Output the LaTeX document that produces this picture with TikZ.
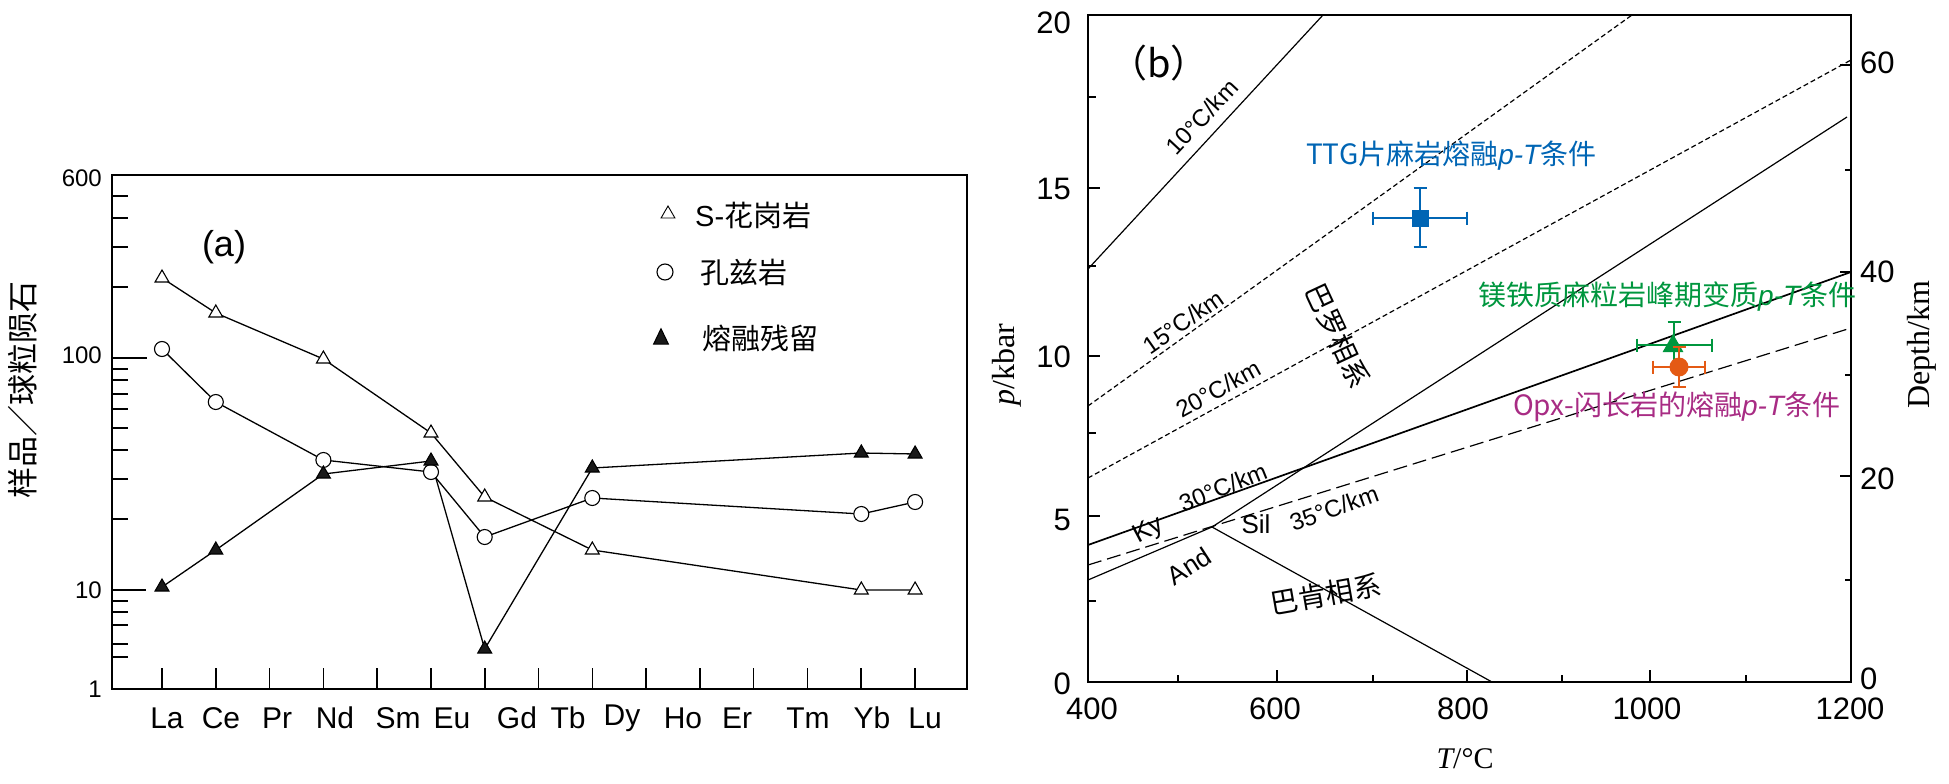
\documentclass[tikz,border=0pt]{standalone}
\usepackage{fontspec}
\setmainfont{Liberation Sans}
\newfontfamily\cj{Noto Sans CJK SC}
\newfontfamily\tms{Liberation Serif}
\usetikzlibrary{shapes.geometric}
\newcommand\fsz[1]{\fontsize{#1}{#1}\selectfont}
\definecolor{cblue}{RGB}{0,101,180}
\definecolor{cgreen}{RGB}{0,150,62}
\definecolor{corange}{RGB}{228,90,20}
\definecolor{cmag}{RGB}{168,44,132}
\begin{document}
\begin{tikzpicture}[x=1pt,y=-1pt,
  frame/.style={line width=2pt},
  tk/.style={line width=1.6pt},
  dataline/.style={line width=1.3pt},
  tri/.style={regular polygon, regular polygon sides=3, minimum size=16pt, inner sep=0pt, draw, line width=1.1pt, fill=white},
  ftri/.style={tri, fill=black!90},
  circ/.style={circle, minimum size=15pt, inner sep=0pt, draw, line width=1.1pt, fill=white},
  lab/.style={inner sep=0pt},
  iso/.style={line width=1.2pt},
  shortdash/.style={iso, dash pattern=on 5pt off 3pt},
  longdash/.style={iso, dash pattern=on 14pt off 6pt},
  errb/.style={line width=1.8pt},
  glab/.style={font=\fsz{24}}
]
\useasboundingbox (0,0) rectangle (1949,784);

% ================= panel (a) =================
\draw[frame] (112,175) rectangle (967,689);
\draw[tk] (112,358) -- (147,358);
\draw[tk] (112,590) -- (146,590);
\foreach \y in {196,218,247,287,369,380,394,409,428,450,479,519,601,612,625,644,657}
  \draw[tk] (112,\y) -- (128,\y);
\foreach \i in {0,...,14}
  \draw[tk] ({162+53.79*\i},689) -- ++(0,-21);

\node[lab, anchor=east, font=\fsz{24}] (ya600) at (102,178) {600};
\node[lab, anchor=east, font=\fsz{24}] (ya100) at (102,355) {100};
\node[lab, anchor=east, font=\fsz{24}] (ya10) at (102,590) {10};
\node[lab, anchor=east, font=\fsz{24}] (ya1) at (102,689) {1};

\foreach \nm/\x in {La/167,Ce/221,Pr/277,Nd/335,Sm/398,Eu/452,Gd/517,Tb/568,Dy/622,Ho/683,Er/737,Tm/808,Yb/872,Lu/925}
  \node[font=\fsz{30}] (x\nm) at (\x,718) {\nm};

\node[rotate=90, font=\cj\fsz{31}] (ylabA) at (23,390) {样品／球粒陨石};
\node[font=\fsz{36}] (tagA) at (224,247) {(a)};

% data
\foreach \n/\x/\s/\k/\r in {1/162/278/349/587, 2/215.8/313/402/550, 3/323.4/359/460/474,
   4/431/433/472/461, 5/484.7/497/537/649, 6/592.3/550/498/468, 7/861.3/590/514/453, 8/915.1/590/502/454} {
  \coordinate (s\n) at (\x,\s);
  \coordinate (k\n) at (\x,\k);
  \coordinate (r\n) at (\x,\r);
}
\draw[dataline] (s1)--(s2)--(s3)--(s4)--(s5)--(s6)--(s7)--(s8);
\draw[dataline] (k1)--(k2)--(k3)--(k4)--(k5)--(k6)--(k7)--(k8);
\draw[dataline] (r1)--(r2)--(r3)--(r4)--(r5)--(r6)--(r7)--(r8);
\foreach \n in {1,...,8} {
  \node[tri] (S\n) at (s\n) {};
  \node[circ] (K\n) at (k\n) {};
  \node[ftri] (R\n) at (r\n) {};
}

% legend
\node[tri, line width=0.9pt, minimum size=16pt] (legS) at (668,214) {};
\node[lab, anchor=west, font=\fsz{29}] (legSt) at (695,215) {S-{\cj 花岗岩}};
\node[circ, minimum size=16pt] (legK) at (665,272) {};
\node[lab, anchor=west, font=\cj\fsz{29}] (legKt) at (700,272) {孔兹岩};
\node[ftri, minimum size=17pt, yscale=1.2] (legR) at (661,339) {};
\node[lab, anchor=west, font=\cj\fsz{29}] (legRt) at (702,338) {熔融残留};

% ================= panel (b) =================
\begin{scope}
\clip (1088,15) rectangle (1851,682);
\draw[iso] (1088,269) -- (1323,15);
\draw[shortdash] (1088,406) -- (1632,15);
\draw[shortdash] (1088,478) -- (1851,60);
\coordinate (tp) at (1212,527);
\draw[iso] (tp) -- (1847,117);
\draw[line width=1.7pt] (1088,545) -- (1851,272);
\draw[longdash] (1088,565) -- (1851,328);
\draw[iso] (1088,580) -- (tp);
\draw[iso] (tp) -- (1492,682);
\end{scope}

\draw[frame] (1088,15) rectangle (1851,682);
\foreach \y in {188,356,516} \draw[tk] (1088,\y) -- ++(12,0);
\foreach \y in {97,266,433,601} \draw[tk] (1088,\y) -- ++(8,0);
\foreach \y in {65,272,476} \draw[tk] (1851,\y) -- ++(-11,0);
\foreach \y in {170,375,580} \draw[tk] (1851,\y) -- ++(-6,0);
\foreach \x in {1277,1467,1650} \draw[tk] (\x,682) -- ++(0,-12);
\foreach \x in {1178,1373,1562,1746} \draw[tk] (\x,682) -- ++(0,-7);

\foreach \v/\y in {20/23,15/189,10/357,5/520,0/684}
  \node[lab, anchor=east, font=\fsz{31}] (yb\v) at (1071,\y) {\v};
\foreach \v/\x in {400/1092,600/1275,800/1463,1000/1647,1200/1850}
  \node[font=\fsz{31}] (xb\v) at (\x,709) {\v};
\foreach \v/\y in {60/63,40/272,20/479,0/679}
  \node[lab, anchor=west, font=\fsz{31}] (db\v) at (1860,\y) {\v};

\node[rotate=90, font=\tms\fsz{32}] (ylabB) at (1007,365) {{\itshape p}/kbar};
\node[rotate=90, font=\tms\fsz{32}] (dlabB) at (1922,345) {Depth/km};
\node[font=\tms\fsz{30}] (xlabB) at (1465,759) {{\itshape T}/°C};
\node[font=\cj\fsz{38}] (tagB) at (1159,63) {（b）};

\node[glab, rotate=47] (g10) at (1202,117) {10°C/km};
\node[glab, rotate=35] (g15) at (1183,322) {15°C/km};
\node[glab, rotate=29] (g20) at (1218,389) {20°C/km};
\node[glab, rotate=22] (g30) at (1223,487) {30°C/km};
\node[glab, rotate=20] (g35) at (1334,508) {35°C/km};
\node[font=\fsz{26}, rotate=28] (ky) at (1149,531) {Ky};
\node[font=\fsz{26}] (sil) at (1256,524) {Sil};
\node[font=\fsz{26}, rotate=33] (and) at (1189,566) {And};
\node[font=\cj\fsz{28}, rotate=-65] (barrow) at (1338,336) {巴罗相系};
\node[font=\cj\fsz{28}, rotate=10] (buchan) at (1326,594) {巴肯相系};

\node[lab, anchor=west, text=cblue, font=\cj\fsz{28}] (ttgt) at (1306,156) {TTG片麻岩熔融{\rmfamily\itshape p-T}条件};
\node[lab, anchor=west, text=cgreen, font=\cj\fsz{28}] (mgt) at (1478,297) {镁铁质麻粒岩峰期变质{\rmfamily\itshape p-T}条件};
\node[lab, anchor=west, text=cmag, font=\cj\fsz{28}] (opxt) at (1513,407) {Opx-闪长岩的熔融{\rmfamily\itshape p-T}条件};

% blue square with error bars
\draw[errb, cblue] (1373,218) -- (1467,218);
\draw[errb, cblue] (1420,188) -- (1420,247);
\draw[errb, cblue] (1373,211.5) -- (1373,224.5);
\draw[errb, cblue] (1467,211.5) -- (1467,224.5);
\draw[errb, cblue] (1413.5,188) -- (1426.5,188);
\draw[errb, cblue] (1413.5,247) -- (1426.5,247);
\node[rectangle, fill=cblue, minimum size=17pt, inner sep=0pt] (ttg) at (1420,218) {};

% green triangle with error bars
\draw[errb, cgreen] (1637,345) -- (1712,345);
\draw[errb, cgreen] (1674,322) -- (1674,368);
\draw[errb, cgreen] (1637,338.5) -- (1637,351.5);
\draw[errb, cgreen] (1712,338.5) -- (1712,351.5);
\draw[errb, cgreen] (1667.5,322) -- (1680.5,322);
\node[regular polygon, regular polygon sides=3, fill=cgreen, minimum size=24pt, inner sep=0pt] (mg) at (1673,346) {};

% orange circle with error bars
\draw[errb, corange] (1653,367) -- (1705,367);
\draw[errb, corange] (1679,347) -- (1679,387);
\draw[errb, corange] (1653,360.5) -- (1653,373.5);
\draw[errb, corange] (1705,360.5) -- (1705,373.5);
\draw[errb, corange] (1672.5,347) -- (1685.5,347);
\draw[errb, corange] (1672.5,387) -- (1685.5,387);
\node[circle, fill=corange, minimum size=19pt, inner sep=0pt] (opx) at (1679,367) {};
\end{tikzpicture}
\end{document}
